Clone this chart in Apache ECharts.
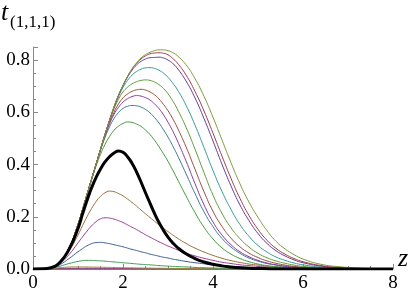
<!DOCTYPE html>
<html>
<head>
<meta charset="utf-8">
<script src="https://cdn.jsdelivr.net/npm/echarts@6/dist/echarts.min.js"></script>
<style>html,body{margin:0;padding:0;background:#fff}#c{width:415px;height:298px}</style>
</head>
<body>
<div id="c"></div>
<script>
// z sample positions (finer around the peaks)
const zValues = [0,0.2,0.4,0.6,0.8,1.0,
  1.1,1.2,1.3,1.4,1.5,1.6,1.7,1.8,1.9,2.0,
  2.1,2.2,2.3,2.4,2.5,2.6,2.7,2.8,2.9,3.0,
  3.1,3.2,3.4,3.6,3.8,4.0,4.2,4.4,4.6,4.8,
  5.0,5.2,5.4,5.6,5.8,6.0,6.4,6.8,7.2,7.6,
  8.0];
const xTickLabels = [0,2,4,6,8];
const yTickLabels = [0.0,0.2,0.4,0.6,0.8];

// curves (t values at each z)
const t01 = [0,0.0001,0.0004,0.0008,0.001,0.001,
  0.001,0.001,0.001,0.0009,0.0009,0.0008,0.0008,0.0007,0.0007,0.0006,
  0.0006,0.0005,0.0005,0.0005,0.0005,0.0004,0.0004,0.0004,0.0004,0.0003,
  0.0003,0.0003,0.0002,0.0002,0.0002,0.0001,0.0001,0,0,0,
  0,0,0,0,0,0,0,0,0,0,
  0];
const t02 = [0,0.0002,0.001,0.002,0.0028,0.003,
  0.003,0.003,0.0029,0.0028,0.0026,0.0025,0.0023,0.0022,0.0021,0.002,
  0.0019,0.0018,0.0017,0.0016,0.0015,0.0014,0.0013,0.0012,0.0011,0.001,
  0.001,0.0009,0.0008,0.0007,0.0006,0.0005,0.0004,0.0003,0.0003,0.0002,
  0.0002,0.0001,0.0001,0,0,0,0,0,0,0,
  0];
const t03 = [0,0.0003,0.002,0.005,0.0075,0.008,
  0.008,0.0078,0.0075,0.0072,0.0068,0.0065,0.0061,0.0058,0.0054,0.0051,
  0.0048,0.0045,0.0042,0.0039,0.0036,0.0034,0.0031,0.0029,0.0027,0.0025,
  0.0023,0.0021,0.0018,0.0015,0.0012,0.001,0.0008,0.0007,0.0005,0.0004,
  0.0003,0.0002,0.0002,0.0001,0.0001,0,0,0,0,0,
  0];
const t04 = [0,0.0004,0.003,0.011,0.021,0.029,
  0.032,0.033,0.033,0.032,0.031,0.03,0.0285,0.027,0.0255,0.024,
  0.0225,0.021,0.0195,0.018,0.017,0.016,0.0145,0.013,0.012,0.011,
  0.01,0.009,0.008,0.006,0.005,0.004,0.003,0.003,0.002,0.002,
  0.001,0.001,0.001,0,0,0,0,0,0,0,
  0];
const t05 = [0,0.0005,0.004,0.017,0.04,0.066,
  0.078,0.089,0.097,0.101,0.102,0.1,0.097,0.093,0.089,0.085,
  0.08,0.075,0.071,0.066,0.062,0.057,0.053,0.049,0.045,0.042,
  0.038,0.035,0.029,0.024,0.02,0.016,0.013,0.01,0.008,0.006,
  0.005,0.004,0.003,0.002,0.002,0.001,0,0,0,0,
  0];
const t06 = [0,0.0005,0.004,0.021,0.055,0.1,
  0.123,0.145,0.165,0.181,0.192,0.196,0.195,0.191,0.185,0.178,
  0.169,0.16,0.151,0.141,0.131,0.122,0.113,0.104,0.096,0.088,
  0.081,0.074,0.061,0.05,0.041,0.033,0.026,0.021,0.016,0.013,
  0.01,0.008,0.006,0.004,0.003,0.002,0.001,0.001,0,0,
  0];
const t07 = [0,0.0005,0.005,0.025,0.068,0.13,
  0.166,0.2,0.231,0.258,0.278,0.292,0.298,0.296,0.289,0.28,
  0.268,0.255,0.241,0.226,0.211,0.197,0.183,0.169,0.156,0.143,
  0.131,0.119,0.098,0.08,0.065,0.052,0.041,0.032,0.025,0.019,
  0.015,0.011,0.008,0.006,0.004,0.003,0.001,0.001,0,0,
  0];
const t08 = [0,0.0005,0.006,0.028,0.08,0.17,
  0.226,0.284,0.34,0.393,0.439,0.477,0.507,0.531,0.547,0.557,
  0.563,0.561,0.555,0.546,0.532,0.515,0.493,0.468,0.441,0.412,
  0.38,0.347,0.28,0.216,0.16,0.115,0.081,0.057,0.04,0.028,
  0.019,0.013,0.009,0.006,0.004,0.003,0.001,0,0,0,
  0];
const t09 = [0,0.0005,0.006,0.028,0.08,0.17,
  0.227,0.285,0.343,0.4,0.454,0.503,0.544,0.576,0.599,0.615,
  0.623,0.626,0.625,0.62,0.611,0.598,0.58,0.559,0.533,0.505,
  0.473,0.439,0.365,0.289,0.219,0.162,0.117,0.084,0.06,0.042,
  0.03,0.021,0.015,0.01,0.007,0.005,0.002,0.001,0,0,
  0];
const t10 = [0,0.0005,0.006,0.028,0.08,0.17,
  0.227,0.285,0.343,0.4,0.457,0.51,0.555,0.592,0.619,0.639,
  0.652,0.66,0.664,0.662,0.656,0.647,0.632,0.614,0.59,0.562,
  0.53,0.494,0.414,0.327,0.246,0.18,0.13,0.093,0.066,0.047,
  0.033,0.023,0.016,0.011,0.008,0.005,0.002,0.001,0,0,
  0];
const t11 = [0,0.0005,0.006,0.028,0.08,0.17,
  0.227,0.285,0.343,0.4,0.457,0.511,0.56,0.6,0.632,0.655,
  0.67,0.68,0.686,0.688,0.685,0.678,0.667,0.651,0.63,0.606,
  0.577,0.544,0.468,0.382,0.296,0.221,0.163,0.118,0.085,0.061,
  0.044,0.031,0.022,0.015,0.01,0.007,0.003,0.001,0,0,
  0];
const t12 = [0,0.0005,0.006,0.028,0.08,0.17,
  0.227,0.285,0.343,0.4,0.458,0.515,0.567,0.613,0.65,0.678,
  0.696,0.709,0.717,0.722,0.724,0.722,0.716,0.706,0.691,0.671,
  0.645,0.615,0.543,0.459,0.369,0.283,0.213,0.158,0.116,0.084,
  0.06,0.043,0.031,0.022,0.015,0.01,0.005,0.002,0.001,0,
  0];
const t13 = [0,0.0005,0.006,0.028,0.08,0.17,
  0.227,0.285,0.343,0.4,0.458,0.515,0.568,0.618,0.66,0.695,
  0.722,0.742,0.756,0.765,0.77,0.771,0.768,0.761,0.75,0.734,
  0.713,0.689,0.627,0.551,0.465,0.377,0.297,0.228,0.17,0.125,
  0.09,0.065,0.046,0.033,0.023,0.016,0.007,0.003,0.001,0,
  0];
const t14 = [0,0.0005,0.006,0.028,0.08,0.17,
  0.227,0.285,0.343,0.4,0.458,0.515,0.569,0.62,0.664,0.702,
  0.734,0.761,0.781,0.795,0.804,0.809,0.81,0.811,0.808,0.8,
  0.788,0.77,0.72,0.655,0.576,0.49,0.401,0.318,0.245,0.185,
  0.136,0.098,0.07,0.05,0.035,0.024,0.011,0.005,0.002,0.001,
  0];
const t15 = [0,0.0005,0.006,0.028,0.08,0.17,
  0.227,0.285,0.343,0.4,0.458,0.515,0.569,0.62,0.665,0.703,
  0.737,0.765,0.787,0.804,0.816,0.824,0.827,0.828,0.826,0.82,
  0.807,0.79,0.743,0.68,0.605,0.52,0.432,0.347,0.27,0.205,
  0.152,0.11,0.079,0.057,0.04,0.028,0.013,0.006,0.002,0.001,
  0];
const t16 = [0,0.0005,0.006,0.028,0.08,0.17,
  0.227,0.285,0.343,0.4,0.458,0.515,0.569,0.62,0.665,0.703,
  0.737,0.766,0.789,0.808,0.821,0.83,0.836,0.839,0.839,0.836,
  0.829,0.818,0.782,0.729,0.661,0.581,0.494,0.407,0.326,0.256,
  0.198,0.147,0.106,0.077,0.055,0.038,0.018,0.009,0.004,0.001,
  0];
const tBlack = [0,0.0005,0.005,0.026,0.075,0.155,
  0.21,0.262,0.31,0.35,0.383,0.41,0.43,0.444,0.452,0.447,
  0.43,0.405,0.372,0.333,0.292,0.252,0.213,0.178,0.148,0.122,
  0.101,0.084,0.058,0.04,0.027,0.018,0.012,0.008,0.005,0.003,
  0.002,0.001,0,0,0,0,0,0,0,0,
  0];

const colouredSeries = [t01,t02,t03,t04,t05,t06,t07,t08,t09,t10,t11,t12,t13,t14,t15,t16];
const colours = ['rgb(63,61,153)','rgb(153,61,113)','rgb(153,140,61)','rgb(61,153,86)','rgb(61,90,153)','rgb(153,61,144)','rgb(153,109,61)','rgb(67,153,61)','rgb(61,121,153)','rgb(132,61,153)','rgb(153,78,61)','rgb(98,153,61)','rgb(61,152,153)','rgb(101,61,153)','rgb(153,61,75)','rgb(129,153,61)'];

const serif = 'Liberation Serif';
const pairs = arr => zValues.map((z, i) => [z, arr[i]]);

const series = colouredSeries.map((arr, i) => ({
  type: 'line', data: pairs(arr), showSymbol: false, smooth: 0.5,
  lineStyle: { color: colours[i], width: 1 }, silent: true, animation: false
}));
series.push({
  type: 'line', data: pairs(tBlack), showSymbol: false, smooth: 0.5,
  lineStyle: { color: '#000', width: 3 }, silent: true, animation: false, z: 5
});

const chart = echarts.init(document.getElementById('c'), null, { renderer: 'canvas' });
chart.setOption({
  animation: false,
  backgroundColor: '#fff',
  grid: { left: 33, right: 22, top: 47, bottom: 29, containLabel: false },
  xAxis: {
    type: 'value', min: 0, max: 8, interval: 2,
    axisLine: { show: true, lineStyle: { color: '#888', width: 1 } },
    axisTick: { show: true, inside: true, length: 5, lineStyle: { color: '#888' } },
    minorTick: { show: true, splitNumber: 4, length: 3, lineStyle: { color: '#888' } },
    splitLine: { show: false },
    axisLabel: { color: '#000', fontFamily: serif, fontSize: 19, margin: 5,
      formatter: v => xTickLabels.includes(v) ? String(v) : '' }
  },
  yAxis: {
    type: 'value', min: 0, max: 0.85, interval: 0.2,
    axisLine: { show: true, lineStyle: { color: '#888', width: 1 } },
    axisTick: { show: true, inside: true, length: 5, lineStyle: { color: '#888' } },
    minorTick: { show: true, splitNumber: 4, length: 3, lineStyle: { color: '#888' } },
    splitLine: { show: false },
    axisLabel: { color: '#000', fontFamily: serif, fontSize: 19, margin: 3, showMaxLabel: false,
      formatter: v => yTickLabels.some(t => Math.abs(t - v) < 1e-9) ? v.toFixed(1) : '' }
  },
  graphic: [
    { type: 'text', left: 1, top: 0, style: { text: 't', fontFamily: serif, fontStyle: 'italic', fontSize: 26, fill: '#000' } },
    { type: 'text', left: 10, top: 14, style: { text: '(1,1,1)', fontFamily: serif, fontSize: 17, fill: '#000' } },
    { type: 'text', left: 398, top: 246, style: { text: 'z', fontFamily: serif, fontStyle: 'italic', fontSize: 26, fill: '#000' } }
  ],
  series: series
});
</script>
</body>
</html>
